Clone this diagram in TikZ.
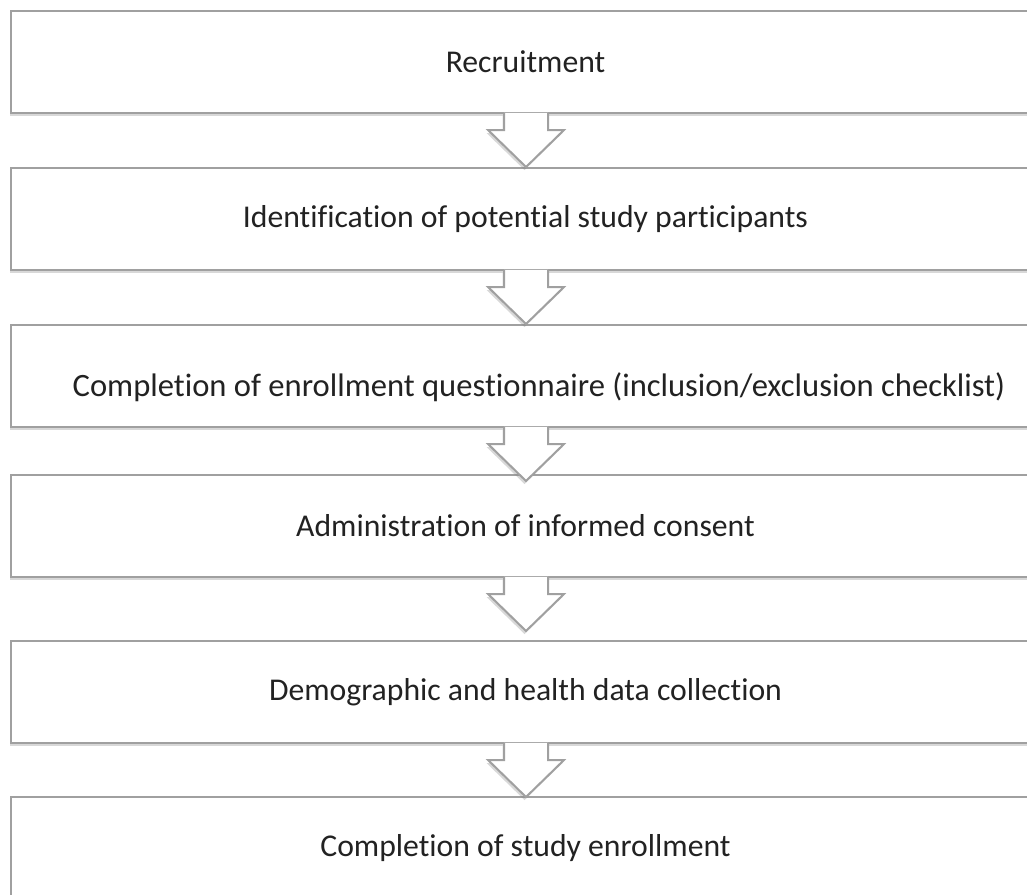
\documentclass[tikz,border=0pt]{standalone}
\usepackage{fontspec}
\setmainfont{Carlito}[Ligatures=NoCommon]
\usetikzlibrary{calc,shadows}
\definecolor{edgegray}{HTML}{A0A0A0}
\definecolor{txtgray}{HTML}{222222}
\tikzset{
  stepbox/.style={draw=edgegray, line width=2pt, fill=white,
    minimum width=1029pt, minimum height=102pt, inner sep=0pt,
    text=txtgray, font=\fontsize{31.7}{37}\selectfont,
    drop shadow={shadow xshift=-1.5pt, shadow yshift=-3pt, opacity=0.3}},
  steptext/.style={text=txtgray, font=\fontsize{32.6}{38}\selectfont, inner sep=0pt},
  arrowfill/.style={fill=white,
    drop shadow={shadow xshift=-1.5pt, shadow yshift=-3pt, opacity=0.3}},
  arrowedge/.style={draw=edgegray, line width=2pt, line join=miter}
}
% block arrow hanging below the bottom edge of a box
\newcommand{\blockarrow}[1]{%
  \path[arrowfill] ($(#1.south)+(-21.5,-1.2)$) -- ++(0,17.2) -- ++(-16,0)
    -- ($(#1.south)+(0.5,53)$) -- ($(#1.south)+(38.5,16)$) -- ++(-16,0)
    -- ++(0,-17.2) -- cycle;
  \draw[arrowedge] ($(#1.south)+(-21.5,-1)$) -- ++(0,17) -- ++(-16,0)
    -- ($(#1.south)+(0.5,53)$) -- ($(#1.south)+(38.5,16)$) -- ++(-16,0)
    -- ++(0,-17);
}
\begin{document}
\begin{tikzpicture}[x=1pt, y=-1pt]
\useasboundingbox (0,0) rectangle (1027,894);
\clip (0,0) rectangle (1027,894);
\fill[white] (0,0) rectangle (1027,894);

\node[stepbox] (b1) at (525.5,62)  {Recruitment};
\node[stepbox] (b2) at (525.5,219) {Identification of potential study participants};
\node[stepbox] (b3) at (525.5,376) {};
\node[steptext] (t3) at (539,387) {Completion of enrollment questionnaire (inclusion/exclusion checklist)};
\node[stepbox] (b4) at (525.5,526) {Administration of informed consent};
\node[stepbox] (b5) at (525.5,692) {Demographic and health data collection};
\node[stepbox] (b6) at (525.5,848) {Completion of study enrollment};

\blockarrow{b1}
\blockarrow{b2}
\blockarrow{b3}
\blockarrow{b4}
\blockarrow{b5}
\end{tikzpicture}
\end{document}
